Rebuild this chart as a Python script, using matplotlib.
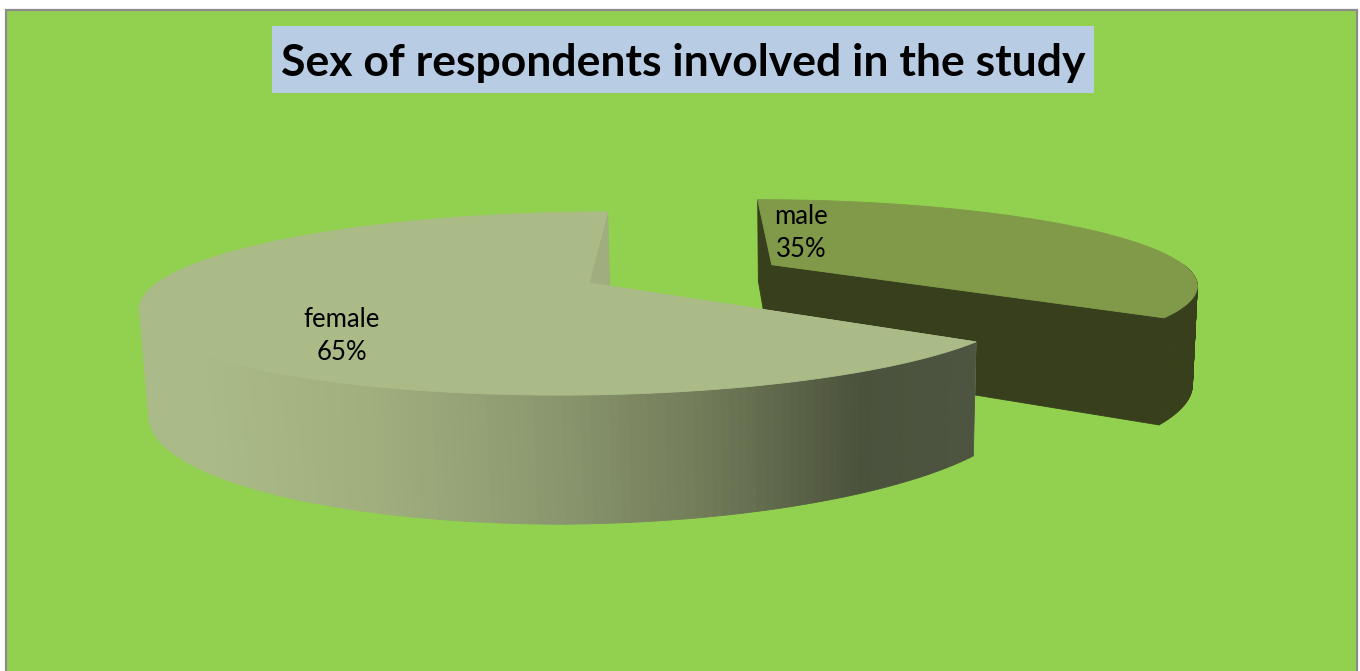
import matplotlib
matplotlib.use('Agg')
import matplotlib.pyplot as plt
from matplotlib.colors import to_rgb
from matplotlib.patches import Rectangle
import numpy as np

labels = ['male', 'female']
values = [35, 65]
explode = [0.485, 0.0]
title = 'Sex of respondents involved in the study'

# camera for the tilted disc, in pixels
CX, CY = 589, 283
A, B, SHEAR, PERSP = 432, 87, 23, 0.224
DEPTH_Y, DEPTH_X, DEPTH_W, DEPTH_TILT = 105, 3, 0.02, 0.03


def project(u, v, z=0.0):
    w = 1 + PERSP * v + DEPTH_W * z
    x = CX + (A * u + SHEAR * v + DEPTH_X * (1 + u) * z) / w
    y = CY + (-B * v + DEPTH_Y * (1 - DEPTH_TILT * max(u, 0)) * z) / w
    return x, y


def poly(ax, pts, color, zorder):
    xs, ys = zip(*pts)
    ax.fill(xs, ys, color=color, lw=0.6, zorder=zorder)


def shade(x):
    # side wall of the big slice darkens from left to right
    xp = [205, 380, 550, 700, 860, 975]
    cols = ['#ABBA89', '#A0AE7E', '#8B986F', '#727C59', '#4B523C', '#4D5440']
    rgb = np.array([to_rgb(c) for c in cols])
    return tuple(np.interp(x, xp, rgb[:, i]) for i in range(3))


def radial_wall(ax, ox, oy, a, col, zorder):
    ru, rv = ox + np.sin(a), oy + np.cos(a)
    poly(ax, [project(ox, oy), project(ru, rv), project(ru, rv, 1), project(ox, oy, 1)], col, zorder)


def draw_slice(ax, start, stop, off, top_col, wall_col, start_col, stop_col, zorder):
    # angles run clockwise from the back of the disc
    mid = (start + stop) / 2
    ox, oy = off * np.sin(mid), off * np.cos(mid)
    t = np.linspace(start, stop, 240)
    u, v = ox + np.sin(t), oy + np.cos(t)

    radial_wall(ax, ox, oy, start, start_col, zorder)

    for i in range(len(t) - 1):
        # the far part of the rim is hidden by the top face
        if np.cos(t[i]) > 0.0:
            continue
        quad = [project(u[i], v[i]), project(u[i + 1], v[i + 1]),
                project(u[i + 1], v[i + 1], 1), project(u[i], v[i], 1)]
        col = wall_col if wall_col is not None else shade(np.mean([p[0] for p in quad]))
        poly(ax, quad, col, zorder + 1)

    radial_wall(ax, ox, oy, stop, stop_col, zorder + 2)
    rim = [project(a, b) for a, b in zip(u, v)]
    poly(ax, [project(ox, oy)] + rim, top_col, zorder + 3)


fig = plt.figure(figsize=(13.6, 6.71), dpi=100)
ax = fig.add_axes([0, 0, 1, 1])
ax.set_xlim(0, 1360)
ax.set_ylim(671, 0)
ax.axis('off')

ax.add_patch(Rectangle((6, 10), 1351, 670, fc='#92D050', ec='#8C8C8C', lw=1.6, zorder=0))
ax.add_patch(Rectangle((272, 26), 822, 67, fc='#B8CCE4', ec='none', zorder=1))
ax.text(683, 63, title, fontsize=32, fontweight='bold', family='Lato',
        ha='center', va='center', color='black', zorder=2)

fracs = np.cumsum([0] + values) / sum(values) * 2 * np.pi
draw_slice(ax, fracs[0], fracs[1], explode[0], '#809A49', '#373F1C', '#373F1C', '#373F1C', 2)
draw_slice(ax, fracs[1], fracs[2], explode[1], '#ABBB88', None, '#ABBB88', '#A0AD7E', 7)

label_pos = [(801, 233), (342, 336)]
for name, val, (lx, ly) in zip(labels, values, label_pos):
    ax.text(lx, ly, f'{name}\n{val}%', fontsize=18.5, family='Lato', ha='center', va='center',
            linespacing=1.42, color='black', zorder=12)

plt.savefig('out.png', dpi=100)
